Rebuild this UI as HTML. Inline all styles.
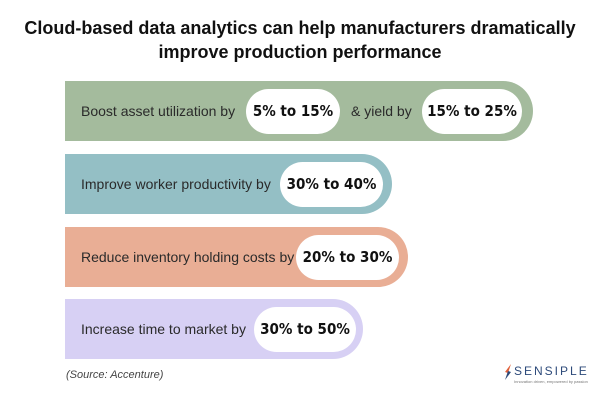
<!DOCTYPE html>
<html><head><meta charset="utf-8"><style>
body{margin:0;width:600px;height:400px;background:#fff;position:relative;overflow:hidden;font-family:"Liberation Sans",sans-serif}
.t{position:absolute;left:0;width:600px;text-align:center;font-weight:bold;font-size:18px;color:#111}
.bar{position:absolute;left:65px;height:60px;border-radius:0 30px 30px 0}
.lbl{position:absolute;font-size:14px;color:#2a2a2a;top:0;line-height:60px;white-space:nowrap}
.pill{position:absolute;top:8px;height:45px;background:#fff;border-radius:23px;text-align:center;line-height:45px;font-weight:bold;font-size:15px;color:#111;white-space:nowrap;font-family:"DejaVu Sans Condensed","Liberation Sans",sans-serif}
</style></head><body>
<div class="t" style="top:18px">Cloud-based data analytics can help manufacturers dramatically</div>
<div class="t" style="top:42px">improve production performance</div>

<div class="bar" style="top:81px;width:468px;background:#a4bb9d">
 <div class="lbl" style="left:16px">Boost asset utilization by</div>
 <div class="pill" style="left:181px;width:94px">5% to 15%</div>
 <div class="lbl" style="left:286px">&amp; yield by</div>
 <div class="pill" style="left:357px;width:100px">15% to 25%</div>
</div>
<div class="bar" style="top:154px;width:327px;background:#94bfc5">
 <div class="lbl" style="left:16px">Improve worker productivity by</div>
 <div class="pill" style="left:215px;width:103px">30% to 40%</div>
</div>
<div class="bar" style="top:227px;width:343px;background:#e9ae95">
 <div class="lbl" style="left:16px">Reduce inventory holding costs by</div>
 <div class="pill" style="left:231px;width:103px">20% to 30%</div>
</div>
<div class="bar" style="top:299px;width:298px;background:#d7d0f4">
 <div class="lbl" style="left:16px">Increase time to market by</div>
 <div class="pill" style="left:189px;width:102px">30% to 50%</div>
</div>

<div style="position:absolute;left:66px;top:369px;font-size:11px;font-style:italic;color:#444">(Source: Accenture)</div>
<div style="position:absolute;left:503px;top:364px;width:90px">
 <svg width="10" height="16" style="position:absolute;left:0;top:0"><path d="M8 0 L2 8 L5 9 Z" fill="#e0603a"/><path d="M2 16 L8 8 L5 7 Z" fill="#2d4a7a"/></svg>
 <div style="position:absolute;left:11px;top:0;font-size:12px;letter-spacing:2px;color:#2d4a7a">SENSIPLE</div>
 <div style="position:absolute;left:11px;top:15px;font-size:4px;color:#777;white-space:nowrap">Innovation driven, empowered by passion</div>
</div>
</body></html>
